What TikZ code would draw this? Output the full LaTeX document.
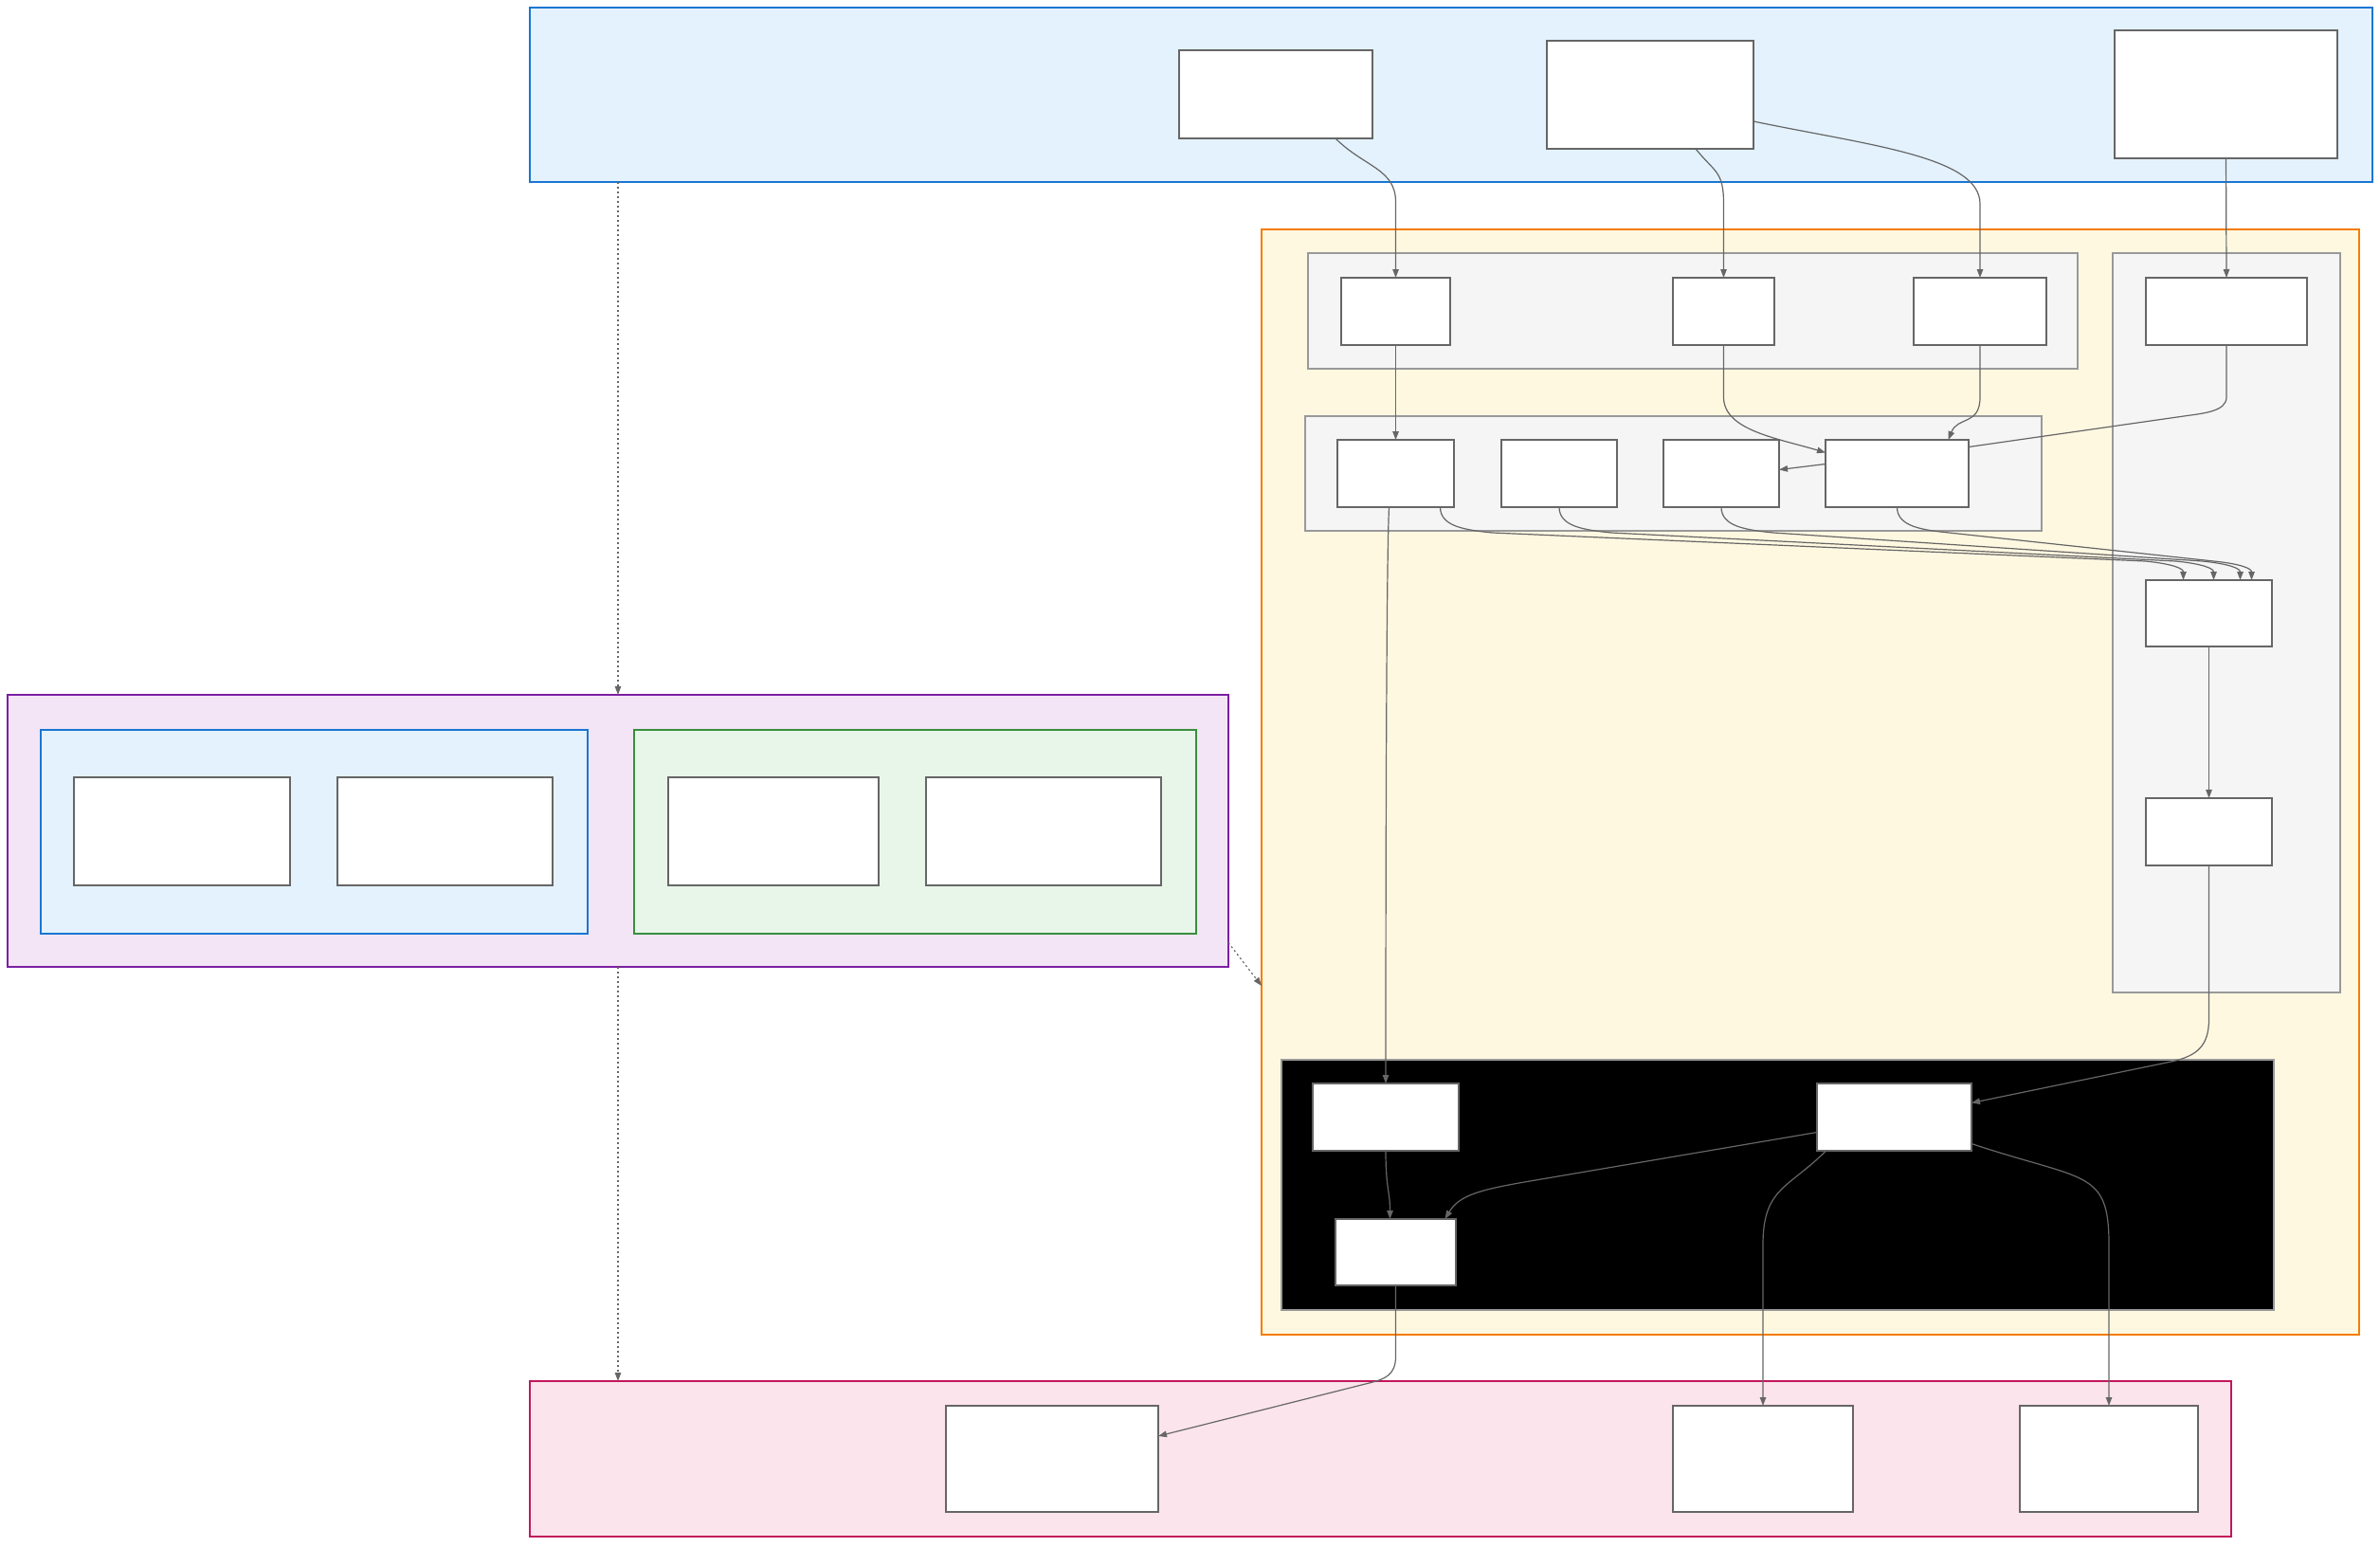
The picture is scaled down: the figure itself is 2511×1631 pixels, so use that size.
\documentclass[tikz,border=0pt]{standalone}
\usetikzlibrary{arrows.meta,calc}

\definecolor{blueline}{HTML}{1976D2}
\definecolor{bluefill}{HTML}{E3F2FD}
\definecolor{orangeline}{HTML}{F57C00}
\definecolor{orangefill}{HTML}{FFF8E1}
\definecolor{purpleline}{HTML}{7B1FA2}
\definecolor{purplefill}{HTML}{F3E5F5}
\definecolor{greenline}{HTML}{388E3C}
\definecolor{greenfill}{HTML}{E8F5E9}
\definecolor{pinkline}{HTML}{C2185B}
\definecolor{pinkfill}{HTML}{FCE4EC}
\definecolor{grayline}{HTML}{999999}
\definecolor{grayfill}{HTML}{F5F5F5}
\definecolor{boxline}{HTML}{666666}
\definecolor{edgecol}{HTML}{666666}

\begin{document}
\begin{tikzpicture}[x=1pt,y=-1pt,
  grp/.style={anchor=north west, inner sep=0pt, outer sep=0pt},
  bluegrp/.style={grp, draw=blueline, fill=bluefill, line width=2.6pt},
  orangegrp/.style={grp, draw=orangeline, fill=orangefill, line width=2.6pt},
  purplegrp/.style={grp, draw=purpleline, fill=purplefill, line width=2.6pt},
  pinkgrp/.style={grp, draw=pinkline, fill=pinkfill, line width=2.6pt},
  subblue/.style={grp, draw=blueline, fill=bluefill, line width=2pt},
  subgreen/.style={grp, draw=greenline, fill=greenfill, line width=2pt},
  graygrp/.style={grp, draw=grayline, fill=grayfill, line width=1.6pt},
  darkgrp/.style={grp, draw=grayline, fill=black, line width=1.4pt},
  box/.style={grp, draw=boxline, fill=white, line width=2pt},
  plainconn/.style={draw=edgecol, line width=1.2pt},
  conn/.style={plainconn, -{Triangle[length=9pt,width=6.5pt]}},
  dotconn/.style={conn, dash pattern=on 2pt off 3pt}
]
\useasboundingbox (0,0) rectangle (2511,1631);

% ---- groups ----
\node[bluegrp, minimum width=1944pt, minimum height=184pt] (topc) at (559,8) {};
\node[orangegrp, minimum width=1158pt, minimum height=1166pt] (orange) at (1331,242) {};
\node[graygrp, minimum width=812pt, minimum height=122pt] (gone) at (1380,267) {};
\node[graygrp, minimum width=777pt, minimum height=121pt] (gtwo) at (1377,439) {};
\node[graygrp, minimum width=240pt, minimum height=780pt] (gright) at (2229,267) {};
\node[darkgrp, minimum width=1047pt, minimum height=264pt] (dark) at (1352,1118) {};
\node[purplegrp, minimum width=1288pt, minimum height=287pt] (purple) at (8,733) {};
\node[subblue, minimum width=577pt, minimum height=215pt] (pblue) at (43,770) {};
\node[subgreen, minimum width=593pt, minimum height=215pt] (pgreen) at (669,770) {};
\node[pinkgrp, minimum width=1795pt, minimum height=164pt] (pink) at (559,1457) {};

% ---- boxes ----
\node[box, minimum width=204pt, minimum height=93pt]  (A1) at (1244,53) {};
\node[box, minimum width=218pt, minimum height=114pt] (A2) at (1632,43) {};
\node[box, minimum width=235pt, minimum height=135pt] (A3) at (2231,32) {};

\node[box, minimum width=115pt, minimum height=71pt] (B1) at (1415,293) {};
\node[box, minimum width=107pt, minimum height=71pt] (B2) at (1765,293) {};
\node[box, minimum width=140pt, minimum height=71pt] (B3) at (2019,293) {};

\node[box, minimum width=170pt, minimum height=71pt] (C1) at (2264,293) {};
\node[box, minimum width=133pt, minimum height=70pt] (C2) at (2264,612) {};
\node[box, minimum width=133pt, minimum height=71pt] (C3) at (2264,842) {};

\node[box, minimum width=123pt, minimum height=71pt] (D1) at (1411,464) {};
\node[box, minimum width=122pt, minimum height=71pt] (D2) at (1584,464) {};
\node[box, minimum width=122pt, minimum height=71pt] (D3) at (1755,464) {};
\node[box, minimum width=151pt, minimum height=71pt] (D4) at (1926,464) {};

\node[box, minimum width=154pt, minimum height=71pt] (E1) at (1385,1143) {};
\node[box, minimum width=163pt, minimum height=71pt] (E2) at (1917,1143) {};
\node[box, minimum width=127pt, minimum height=70pt] (E3) at (1409,1286) {};

\node[box, minimum width=228pt, minimum height=114pt] (P1) at (78,820) {};
\node[box, minimum width=227pt, minimum height=114pt] (P2) at (356,820) {};
\node[box, minimum width=222pt, minimum height=114pt] (P3) at (705,820) {};
\node[box, minimum width=248pt, minimum height=114pt] (P4) at (977,820) {};

\node[box, minimum width=224pt, minimum height=112pt] (F1) at (998,1483) {};
\node[box, minimum width=190pt, minimum height=112pt] (F2) at (1765,1483) {};
\node[box, minimum width=188pt, minimum height=112pt] (F3) at (2131,1483) {};

% ---- connectors from the top group ----
\draw[conn] ([xshift=63pt]A1.south) .. controls +(30,30) and +(0,-35) .. ([yshift=80pt]B1.north) -- (B1.north);
\draw[conn] ([xshift=48pt]A2.south) .. controls +(20,25) and +(0,-35) .. ([yshift=78pt]B2.north) -- (B2.north);
\draw[conn] ([yshift=-28pt]A2.east) .. controls +(120,25) and +(0,-50) .. ([yshift=78pt]B3.north) -- (B3.north);
\draw[conn] (A3.south) -- (C1.north);

% ---- first row to second row ----
\draw[conn] (B1.south) -- (D1.north);
\draw[conn] (B2.south) -- ++(0,55) .. controls +(0,35) and +(-50,-15) .. ([yshift=22pt]D4.west);
\draw[conn] (B3.south) -- ++(0,55) .. controls +(0,30) and +(10,-25) .. ([xshift=54pt]D4.north);
\draw[plainconn] (C1.south) -- ++(0,55) .. controls +(0,15) and +(21,-3) .. ++(-45,20) -- ([yshift=28pt]D4.east);
\draw[conn] ([yshift=10pt]D4.west) -- ([yshift=4pt]D3.east);

% ---- second row to the right column ----
\draw[conn] ([xshift=47pt]D1.south) .. controls +(0,20) and +(-30,-3) .. ++(55,27)
  -- ($(C2.north)+(-67,-20)$) .. controls +(30,3) and +(0,-12) .. ([xshift=-27pt]C2.north);
\draw[conn] (D2.south) .. controls +(0,20) and +(-30,-3) .. ++(55,27)
  -- ($(C2.north)+(-35,-20)$) .. controls +(30,3) and +(0,-12) .. ([xshift=5pt]C2.north);
\draw[conn] (D3.south) .. controls +(0,20) and +(-30,-3) .. ++(55,27)
  -- ($(C2.north)+(-7,-20)$) .. controls +(30,3) and +(0,-12) .. ([xshift=33pt]C2.north);
\draw[conn] (D4.south) .. controls +(0,20) and +(-30,-3) .. ++(55,27)
  -- ($(C2.north)+(5,-20)$) .. controls +(30,3) and +(0,-12) .. ([xshift=45pt]C2.north);
\draw[conn] (C2.south) -- (C3.north);

% ---- down into the dark group ----
\draw[conn] ([xshift=-7pt]D1.south) .. controls +(-3,60) and +(0,-200) .. (E1.north);
\draw[conn] (C3.south) -- ++(0,162) .. controls +(0,28) and +(28,-6) .. ++(-40,45) -- ([yshift=15pt]E2.east);
\draw[conn] (E1.south) .. controls +(0,40) and +(0,-30) .. ([xshift=-6pt]E3.north);
\draw[conn] ([yshift=-16pt]E2.west) -- ($(E3.north)+(147.5,-41)$) .. controls +(-60,10) and +(15,-25) .. ([xshift=52pt]E3.north);

% ---- into the bottom group ----
\draw[conn] ([xshift=-72pt]E2.south) .. controls +(-40,40) and +(0,-60) .. ([yshift=170pt]F2.north) -- (F2.north);
\draw[conn] ([yshift=-28pt]E2.east) .. controls +(120,40) and +(0,-80) .. ([yshift=170pt]F3.north) -- (F3.north);
\draw[conn] (E3.south) -- ++(0,75) .. controls +(0,20) and +(16,-4) .. ++(-28,28) -- ([yshift=24pt]F1.east);

% ---- dotted links between groups ----
\draw[dotconn] ([xshift=93pt]topc.south west) -- ([xshift=644pt]purple.north west);
\draw[dotconn] ([xshift=644pt]purple.south west) -- ([xshift=93pt]pink.north west);
\draw[dotconn] ([yshift=-118pt]purple.east) -- ([yshift=-215pt]orange.west);
\end{tikzpicture}
\end{document}
